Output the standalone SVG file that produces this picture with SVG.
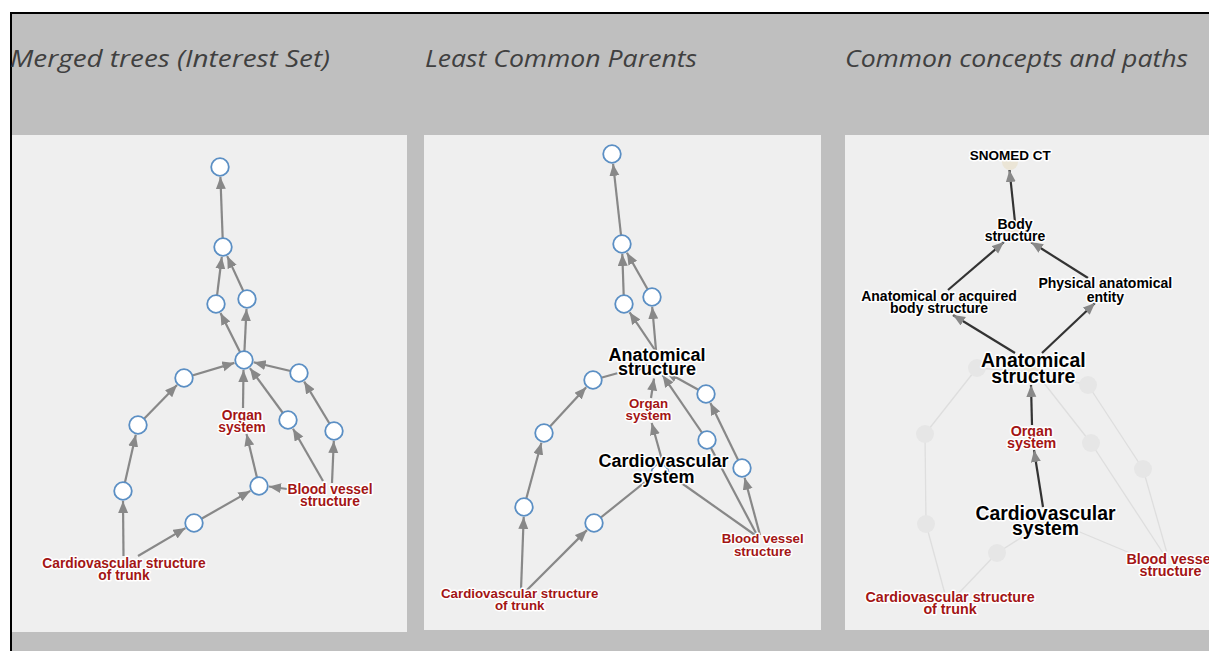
<svg xmlns="http://www.w3.org/2000/svg" width="1209" height="651" viewBox="0 0 1209 651">
<style>
.title{font-family:"Open Sans","Liberation Sans",sans-serif;font-style:italic;font-size:23px;fill:#404040}
.panel{fill:#efefef}
.e{stroke:#888;stroke-width:2.2;fill:none}
.ea{stroke:#888;stroke-width:2.2;fill:none;marker-end:url(#ah)}
.ed{stroke:#333;stroke-width:2.2;fill:none;marker-end:url(#ah)}
.ef{stroke:#dedede;stroke-width:1.3;fill:none}
.n{fill:#fff;stroke:#5b8fc4;stroke-width:1.8}
.nf{fill:#e6e6e6;stroke:none}
.nb{fill:#ebe5d6;stroke:none}
.lbl{font-family:"Liberation Sans",Arial,sans-serif;font-weight:bold;text-anchor:middle;stroke:#fff;stroke-width:3;stroke-linejoin:round;paint-order:stroke}
.red{fill:#a31515}
.blk{fill:#000}
</style>
<defs>
<marker id="ah" markerUnits="userSpaceOnUse" markerWidth="14" markerHeight="12" refX="12" refY="5" orient="auto">
<path d="M0,0 L12,5 L0,10 z" fill="#888"/>
</marker>
</defs>
<rect x="10" y="12" width="1199" height="639" fill="#bfbfbf"/>
<line x1="10" y1="13" x2="1209" y2="13" stroke="#000" stroke-width="2"/>
<line x1="11" y1="12" x2="11" y2="651" stroke="#000" stroke-width="2"/>
<text class="title" x="10" y="67" textLength="320" lengthAdjust="spacingAndGlyphs">Merged trees (Interest Set)</text>
<text class="title" x="425" y="67" textLength="272" lengthAdjust="spacingAndGlyphs">Least Common Parents</text>
<text class="title" x="845" y="67" textLength="343" lengthAdjust="spacingAndGlyphs">Common concepts and paths</text>
<rect class="panel" x="12" y="135" width="395" height="497"/>
<rect class="panel" x="424" y="135" width="397" height="495"/>
<rect class="panel" x="845" y="135" width="364" height="495"/>

<g id="connectors">
<!-- panel 1 -->
<line class="ea" x1="223" y1="247" x2="220.4" y2="177"/>
<line class="ea" x1="216" y1="304" x2="221.8" y2="256.9"/>
<line class="ea" x1="247" y1="299" x2="227.2" y2="256.1"/>
<line class="ea" x1="244" y1="360" x2="220.5" y2="312.9"/>
<line class="ea" x1="244" y1="360" x2="246.5" y2="309"/>
<line class="ea" x1="184" y1="378" x2="234.4" y2="362.9"/>
<line class="ea" x1="299" y1="373" x2="253.7" y2="362.3"/>
<line class="ea" x1="243" y1="408" x2="243.5" y2="370"/>
<line class="ea" x1="288" y1="420" x2="249.9" y2="368.1"/>
<line class="ea" x1="138" y1="425" x2="177" y2="385.1"/>
<line class="ea" x1="123" y1="491" x2="135.8" y2="434.8"/>
<line class="ea" x1="123.5" y1="556" x2="123" y2="501"/>
<line class="ea" x1="138" y1="556" x2="185.4" y2="528.1"/>
<line class="ea" x1="194" y1="523" x2="250.3" y2="490.9"/>
<line class="ea" x1="259" y1="486" x2="246.5" y2="434"/>
<line class="ea" x1="287" y1="489" x2="269" y2="486.5"/>
<line class="ea" x1="323" y1="481" x2="293" y2="428.7"/>
<line class="ea" x1="332" y1="483" x2="333.8" y2="441"/>
<line class="ea" x1="334" y1="431" x2="304.2" y2="381.6"/>
<!-- panel 2 -->
<line class="ea" x1="622" y1="244" x2="613.1" y2="163.9"/>
<line class="ea" x1="624" y1="304" x2="622.3" y2="254"/>
<line class="ea" x1="652" y1="297" x2="626.9" y2="252.7"/>
<line class="ea" x1="655" y1="350" x2="629.6" y2="312.3"/>
<line class="ea" x1="656" y1="350" x2="652.2" y2="307"/>
<line class="ea" x1="593" y1="380" x2="647" y2="365"/>
<line class="ea" x1="544" y1="433" x2="586.2" y2="387.3"/>
<line class="ea" x1="524" y1="507" x2="541.4" y2="442.7"/>
<line class="ea" x1="521" y1="590" x2="523.7" y2="517"/>
<line class="ea" x1="527" y1="590" x2="586.9" y2="530.1"/>
<line class="e" x1="594" y1="523" x2="650" y2="478"/>
<line class="ea" x1="662" y1="460" x2="651.7" y2="423"/>
<line class="ea" x1="651" y1="398" x2="654" y2="378.5"/>
<line class="ea" x1="707" y1="440" x2="662.6" y2="375.2"/>
<line class="ea" x1="706" y1="394" x2="665.8" y2="371.8"/>
<line class="ea" x1="742" y1="468" x2="710.4" y2="403"/>
<line class="ea" x1="760" y1="535" x2="744.6" y2="477.7"/>
<line class="e" x1="757" y1="535" x2="711" y2="448"/>
<line class="e" x1="755" y1="535" x2="680" y2="482"/>
<!-- panel 3 faint -->
<line class="ef" x1="945" y1="594" x2="926" y2="524"/>
<line class="ef" x1="958" y1="594" x2="997" y2="553"/>
<line class="ef" x1="926" y1="524" x2="925" y2="434"/>
<line class="ef" x1="925" y1="434" x2="977" y2="368"/>
<line class="ef" x1="977" y1="368" x2="1030" y2="372"/>
<line class="ef" x1="997" y1="553" x2="1030" y2="532"/>
<line class="ef" x1="1075" y1="530" x2="1130" y2="553"/>
<line class="ef" x1="1163" y1="553" x2="1091" y2="443"/>
<line class="ef" x1="1167" y1="553" x2="1143" y2="469"/>
<line class="ef" x1="1143" y1="469" x2="1088" y2="385"/>
<line class="ef" x1="1091" y1="443" x2="1040" y2="378"/>
<line class="ef" x1="1088" y1="385" x2="1045" y2="375"/>
<!-- panel 3 dark -->
<line class="ed" x1="1015" y1="222" x2="1009.5" y2="170"/>
<line class="ed" x1="948" y1="290" x2="1004" y2="242"/>
<line class="ed" x1="1088" y1="278" x2="1031" y2="242"/>
<line class="ed" x1="1015" y1="353" x2="953" y2="315"/>
<line class="ed" x1="1042" y1="353" x2="1095" y2="303"/>
<line class="ed" x1="1032" y1="425" x2="1031" y2="385"/>
<line class="ed" x1="1043" y1="507" x2="1034" y2="450"/>
</g>

<g id="p1-n1"><circle class="n" cx="220" cy="167" r="8.8"/></g>
<g id="p1-n2"><circle class="n" cx="223" cy="247" r="8.8"/></g>
<g id="p1-n3"><circle class="n" cx="216" cy="304" r="8.8"/></g>
<g id="p1-n4"><circle class="n" cx="247" cy="299" r="8.8"/></g>
<g id="p1-hub"><circle class="n" cx="244" cy="360" r="8.8"/></g>
<g id="p1-l1"><circle class="n" cx="184" cy="378" r="8.8"/></g>
<g id="p1-r1"><circle class="n" cx="299" cy="373" r="8.8"/></g>
<g id="p1-l2"><circle class="n" cx="138" cy="425" r="8.8"/></g>
<g id="p1-l3"><circle class="n" cx="123" cy="491" r="8.8"/></g>
<g id="p1-b1"><circle class="n" cx="194" cy="523" r="8.8"/></g>
<g id="p1-c1"><circle class="n" cx="259" cy="486" r="8.8"/></g>
<g id="p1-r2"><circle class="n" cx="288" cy="420" r="8.8"/></g>
<g id="p1-r3"><circle class="n" cx="334" cy="431" r="8.8"/></g>
<g id="p1-organ"><text class="lbl red" style="font-size:13.8px" x="242" y="419.5">Organ<tspan x="242" y="432.3">system</tspan></text></g>
<g id="p1-blood"><text class="lbl red" style="font-size:13.8px" x="330" y="493.5">Blood vessel<tspan x="330" y="506">structure</tspan></text></g>
<g id="p1-trunk"><text class="lbl red" style="font-size:13.8px" x="124" y="567.5">Cardiovascular structure<tspan x="124" y="580">of trunk</tspan></text></g>

<g id="p2-n1"><circle class="n" cx="612" cy="154" r="8.8"/></g>
<g id="p2-n2"><circle class="n" cx="622" cy="244" r="8.8"/></g>
<g id="p2-n3"><circle class="n" cx="624" cy="304" r="8.8"/></g>
<g id="p2-n4"><circle class="n" cx="652" cy="297" r="8.8"/></g>
<g id="p2-l1"><circle class="n" cx="593" cy="380" r="8.8"/></g>
<g id="p2-l2"><circle class="n" cx="544" cy="433" r="8.8"/></g>
<g id="p2-l3"><circle class="n" cx="524" cy="507" r="8.8"/></g>
<g id="p2-b1"><circle class="n" cx="594" cy="523" r="8.8"/></g>
<g id="p2-r1"><circle class="n" cx="706" cy="394" r="8.8"/></g>
<g id="p2-r2"><circle class="n" cx="707" cy="440" r="8.8"/></g>
<g id="p2-r3"><circle class="n" cx="742" cy="468" r="8.8"/></g>
<g id="p2-anat"><text class="lbl blk" style="font-size:18px" x="657" y="360.7">Anatomical<tspan x="657" y="375">structure</tspan></text></g>
<g id="p2-organ"><text class="lbl red" style="font-size:13.3px" x="648.5" y="408.3">Organ<tspan x="648.5" y="420">system</tspan></text></g>
<g id="p2-cvs"><circle class="n" cx="660" cy="473" r="8.8"/><text class="lbl blk" style="font-size:18px" x="663.5" y="466.7">Cardiovascular<tspan x="663.5" y="482.7">system</tspan></text></g>
<g id="p2-blood"><text class="lbl red" style="font-size:13.3px" x="762.7" y="543.3">Blood vessel<tspan x="762.7" y="555.7">structure</tspan></text></g>
<g id="p2-trunk"><text class="lbl red" style="font-size:13.3px" x="519.7" y="597.7">Cardiovascular structure<tspan x="519.7" y="610">of trunk</tspan></text></g>

<g id="p3-f1"><circle class="nf" cx="977" cy="368" r="9"/></g>
<g id="p3-f2"><circle class="nf" cx="1088" cy="385" r="9"/></g>
<g id="p3-f3"><circle class="nf" cx="925" cy="434" r="9"/></g>
<g id="p3-f4"><circle class="nf" cx="1091" cy="443" r="9"/></g>
<g id="p3-f5"><circle class="nf" cx="1143" cy="469" r="9"/></g>
<g id="p3-f6"><circle class="nf" cx="926" cy="524" r="9"/></g>
<g id="p3-f7"><circle class="nf" cx="997" cy="553" r="9"/></g>
<g id="p3-snomed"><circle class="nb" cx="1010" cy="162" r="8"/><text class="lbl blk" style="font-size:13.5px" x="1010.3" y="160">SNOMED CT</text></g>
<g id="p3-body"><circle class="nb" cx="1015" cy="234" r="8"/><text class="lbl blk" style="font-size:14px" x="1015" y="229.3">Body<tspan x="1015" y="241">structure</tspan></text></g>
<g id="p3-aoa"><text class="lbl blk" style="font-size:14px" x="939" y="300.7">Anatomical or acquired<tspan x="939" y="313.3">body structure</tspan></text></g>
<g id="p3-phys"><text class="lbl blk" style="font-size:14px" x="1105.3" y="288.3">Physical anatomical<tspan x="1105.3" y="301.7">entity</tspan></text></g>
<g id="p3-anat"><circle class="nb" cx="1032" cy="370" r="8"/><text class="lbl blk" style="font-size:19.4px" x="1033.3" y="366.7">Anatomical<tspan x="1033.3" y="382.7">structure</tspan></text></g>
<g id="p3-organ"><text class="lbl red" style="font-size:14.3px" x="1031.7" y="435.7">Organ<tspan x="1031.7" y="447.7">system</tspan></text></g>
<g id="p3-cvs"><circle class="nb" cx="1045" cy="525" r="8"/><text class="lbl blk" style="font-size:19.4px" x="1045.5" y="520">Cardiovascular<tspan x="1045.5" y="535">system</tspan></text></g>
<g id="p3-blood"><text class="lbl red" style="font-size:14.3px" x="1170.5" y="564">Blood vessel<tspan x="1170.5" y="576">structure</tspan></text></g>
<g id="p3-trunk"><text class="lbl red" style="font-size:14.3px" x="950" y="601.7">Cardiovascular structure<tspan x="950" y="614">of trunk</tspan></text></g>
</svg>
